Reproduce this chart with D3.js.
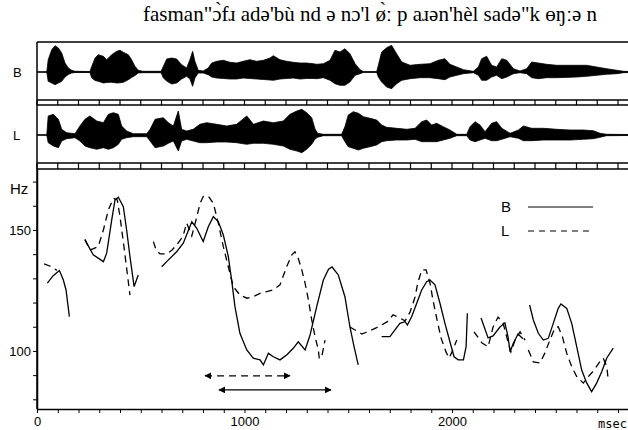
<!DOCTYPE html>
<html>
<head>
<meta charset="utf-8">
<script src="https://cdn.jsdelivr.net/npm/d3@7"></script>
<style>
  body { margin: 0; background: #fff; }
  svg { display: block; }
  text { font-family: "Liberation Sans", Arial, sans-serif; fill: #000; }
</style>
</head>
<body>
<div id="chart"></div>
<script>
// transcription shown above the waveforms
const title = 'fasman"ɔ̀fɹ adə\'bù nd ə nɔ\'l ø̀ː p aɹən\'hèl sadə"k ɵŋːə n';

// waveform envelopes: [msec, amplitude above, amplitude below]
const waveB = [
  [0,0,0],[47,0,0],[54,12.3,9.3],[71,22.3,11],[87,26.3,12.7],[103,24,11],[119,19,9.3],
  [135,9,5],[151,4,2.5],[167,1.7,1],[183,0.7,0.5],[255,0.5,0.5],[264,5.7,6],[280,14,8.5],
  [295,17.3,9.3],[320,15.7,11],[336,12.3,10.5],[360,17.3,10.3],[384,20.7,11],[400,21.7,10.8],
  [416,19.7,10.3],[440,17.3,7.7],[456,12.3,5.5],[472,5.7,3.5],[488,1.7,1],[511,0.7,0.7],
  [598,0.7,0.7],[609,5.7,6],[625,13,9],[649,14,12],[673,13,11],[697,7.3,7],[721,4,4.3],
  [737,12.3,7],[750,20.7,14.3],[761,10.7,6],[777,1.7,1],[801,1,1],[825,4,2.7],[842,9,5],
  [866,10.7,6],[898,11.7,6.5],[930,9.7,7],[962,9,7],[994,10.7,6],[1026,12.3,6.5],
  [1059,10.7,7],[1091,11.7,7.5],[1123,14,8],[1139,16.3,8.3],[1171,12.3,7],[1203,10.7,6.5],
  [1235,9.7,6],[1267,9,7],[1300,9,6.5],[1331,8.3,6.5],[1348,7.7,6.7],[1380,8.3,5.7],
  [1412,11.7,8.3],[1436,21.7,11.7],[1460,20,13.3],[1484,23.3,13.3],[1508,18.3,10],
  [1533,8.3,3.3],[1557,2.3,1.7],[1573,0.3,0.3],[1637,0.3,0.3],[1645,6.7,5],[1661,20,10],
  [1685,24.3,15],[1709,26.7,16.7],[1733,18.3,11.7],[1758,10,8.3],[1798,6.7,6.7],
  [1846,7.7,5.7],[1894,8.3,5.7],[1934,11.7,6.7],[1966,13.3,7.7],[1990,7.7,5],[2023,5,3.3],
  [2055,2.3,1.7],[2103,0.7,0.7],[2127,5,3.3],[2143,13.3,8.3],[2167,15.7,8.3],[2191,6.7,5],
  [2215,5,3.3],[2240,13.3,6.7],[2264,11.7,5],[2296,3.3,1.7],[2328,1,0.7],[2360,3.3,1.7],
  [2384,10,5.7],[2416,9,6.7],[2456,7.7,5.7],[2505,6.7,5.7],[2601,6.7,5],[2649,6.7,4.3],
  [2697,5,3.3],[2745,3.3,2.3],[2794,1.7,1.7],[2826,0.7,0.7],[2850,0.5,0.5]
];
const waveL = [
  [0,0,0],[47,0,0],[54,19,7.7],[79,20.7,11],[103,15.7,12.7],[119,5.7,6],[143,2.3,3.7],
  [183,1.3,2.7],[207,9,6],[231,15.7,11],[255,19,12.7],[288,14,14.3],[320,12.3,12.7],
  [344,20.7,14.3],[368,22.3,12.7],[392,20.7,9.3],[408,9,4.3],[432,4,2.7],[464,1.3,1.7],
  [529,1.3,1.7],[545,5.7,6],[569,15.7,12.7],[609,17.3,11],[633,12.3,8.3],[657,9,6],
  [681,24,16],[697,5.7,6],[721,4,4.3],[753,5.7,6],[785,10.7,7.7],[818,12.3,7.7],
  [866,10.7,7],[914,9,7],[962,10.7,7.7],[1011,19,9.3],[1043,10.7,8.3],[1091,14,8.3],
  [1139,12.3,9.3],[1187,14,11],[1219,20.7,14.3],[1252,24,16],[1276,25.7,17.7],
  [1300,22.3,14.3],[1324,17.3,9.3],[1340,6,4],[1352,1.7,2.3],[1380,0.7,0.7],[1468,0.7,0.7],
  [1484,8.3,6.7],[1500,20,11.7],[1524,23.3,13.3],[1549,21.7,15],[1573,18.3,13.3],
  [1605,16.7,11.7],[1637,15,10],[1661,10,6.7],[1685,7.7,5.7],[1733,6.7,5],[1782,5.7,5],
  [1822,6.7,4.3],[1854,13.3,6.7],[1878,15,6.7],[1902,10,6.7],[1926,11.7,6.7],[1958,8.3,5],
  [1990,5,3.3],[2023,0.7,0.7],[2071,0.7,0.7],[2087,8.3,5],[2111,13.3,6.7],[2135,10,5],
  [2159,3.3,3.3],[2191,11.7,5.7],[2215,13.3,5.7],[2240,6.7,4.3],[2280,1.7,1.7],[2320,5,3.3],
  [2344,9,5.7],[2384,6.7,5.7],[2440,6.7,5],[2505,5.7,5],[2569,5,5],[2633,5,4.3],
  [2681,4.3,3.7],[2713,1.7,2.3],[2745,0.7,0.7],[2850,0.5,0.5]
];

// F0 contours, speaker B (solid) and L (dashed): [msec, Hz]
const pitchB = [
  [[50,128.0],[77,131.0],[108,133.2],[127,129.3],[140,125.2],[156,114.2]],
  [[231,145.9],[271,139.7],[320,136.9],[336,140.5],[360,154.1],[376,162.4],[392,163.5],
   [416,159.6],[432,150.0],[448,139.0],[468,126.6],[488,131.4]],
  [[601,134.8],[625,136.9],[673,141.0],[705,144.5],[746,153.4],[770,150.7],[801,145.2],
   [826,151.4],[850,155.5],[874,153.4],[898,147.9],[922,139.0],[938,129.3],[954,118.3],
   [978,107.3],[1011,100.4],[1042,97.0],[1075,96.3],[1091,94.2],[1115,99.0],[1139,97.6],
   [1171,96.3],[1203,98.3],[1235,101.1],[1259,103.8],[1292,100.4],[1316,106.6],[1348,118.3],
   [1380,129.3],[1405,133.8],[1422,134.7],[1452,131.4],[1484,122.4],[1508,110.0],
   [1528,101.8],[1548,94.2]],
  [[1661,105.9],[1701,105.9],[1725,108.7],[1749,111.4],[1774,112.1],[1785,110.7],
   [1806,114.2],[1830,119.7],[1854,125.2],[1878,128.6],[1894,129.3],[1918,127.3],
   [1942,119.7],[1966,111.4],[1990,103.8],[2010,97.6],[2030,96.3],[2055,96.3],[2068,101.8],
   [2074,115.6]],
  [[2140,113.6],[2174,105.4],[2198,106.2],[2231,109.9],[2255,111.6],[2270,105.8],
   [2280,99.6],[2294,102.9],[2318,107.0],[2342,105.0]],
  [[2374,119.0],[2392,112.8],[2416,107.3],[2440,104.5],[2464,105.2],[2488,111.4],
   [2512,117.6],[2525,119.4],[2553,117.6],[2577,111.4],[2601,101.8],[2625,92.1],
   [2649,86.8],[2673,83.2],[2697,86.7],[2721,91.3],[2746,97.1],[2777,101.2]]
];
const pitchL = [
  [[34,136.0],[64,135.0],[96,133.3]],
  [[231,146.2],[255,141.7],[295,143.1],[320,150.0],[344,158.3],[368,163.1],[387,162.4],
   [400,155.5],[419,143.1],[435,132.1],[448,123.1]],
  [[561,145.2],[574,141.7],[593,140.1],[625,140.1],[651,141.7],[680,144.6],[704,147.5],
   [721,152.9],[746,147.5],[766,154.1],[786,161.0],[801,163.8],[826,164.0],[850,161.0],
   [874,152.7],[898,143.1],[922,134.8],[946,126.6],[978,123.1],[1011,121.8],[1042,122.4],
   [1075,123.8],[1107,124.5],[1139,125.2],[1171,127.3],[1203,134.8],[1228,139.7],
   [1243,141.0],[1259,138.3],[1276,133.5],[1292,128.0],[1308,121.1],[1324,112.8],
   [1340,105.9],[1356,100.4],[1361,96.3]],
  [[1374,98.3],[1388,104.5]],
  [[1508,109.9],[1566,107.0],[1634,109.5],[1687,112.0],[1716,114.9],[1749,113.6],
   [1774,112.4],[1798,116.1],[1822,122.3],[1836,128.5],[1855,133.5],[1875,133.5],
   [1894,128.1],[1908,121.1],[1928,112.8],[1947,105.4],[1971,99.6],[1986,97.1],
   [2000,99.6],[2023,104.5]],
  [[2106,107.9],[2145,103.3],[2174,101.7],[2198,109.9],[2222,114.0],[2246,111.6],
   [2270,103.7],[2284,99.6],[2304,104.5],[2328,107.9],[2352,104.5]],
  [[2368,100.4],[2392,95.5],[2424,95.0],[2448,99.2],[2472,104.5],[2496,109.5],
   [2512,110.0],[2532,105.9],[2553,99.0],[2577,93.5],[2601,89.4],[2633,86.7],
   [2657,89.4],[2681,91.7],[2713,95.6],[2729,97.0],[2746,93.5],[2753,88.0]]
];

// duration arrows: [start msec, end msec, Hz level]
const arrowL = [810, 1219, 89.7];
const arrowB = [877, 1417, 83.9];

const xTicks = d3.range(0, 2900, 100);
const xLabels = [0, 1000, 2000];
const yTicks = d3.range(80, 180, 10);
const yLabels = [100, 150];

const width = 628, height = 430;
const left = 37, right = 628;
const frameTop = 42;
const bPanel = [42, 100], lPanel = [105, 163], fPanel = [169, 409];

const svg = d3.select('#chart').append('svg')
  .attr('width', width)
  .attr('height', height);

const defs = svg.append('defs');
defs.append('marker')
  .attr('id', 'head')
  .attr('viewBox', '0 0 10 10')
  .attr('refX', 9).attr('refY', 5)
  .attr('markerWidth', 7).attr('markerHeight', 7)
  .attr('markerUnits', 'userSpaceOnUse')
  .attr('orient', 'auto-start-reverse')
  .append('path')
  .attr('d', 'M0,0L10,5L0,10Z')
  .attr('fill', '#000');

const x = d3.scaleLinear().domain([0, 2850]).range([left, left + 0.2075 * 2850]);
const y = d3.scaleLinear().domain([76, 175.2]).range([fPanel[1], fPanel[0]]);

// title
svg.append('text')
  .attr('x', 143).attr('y', 21)
  .style('font-family', '"Liberation Serif", "DejaVu Serif", serif')
  .style('font-size', '21px')
  .text(title);

// frame
svg.append('line').attr('x1', left).attr('x2', right).attr('y1', frameTop).attr('y2', frameTop)
  .attr('stroke', '#000').attr('stroke-width', 1.5);

// waveform panels
function wavePanel(data, band, label) {
  const amp = d3.scaleLinear().domain([-28, 30]).range([band[1], band[0]]);
  const g = svg.append('g');
  g.append('line')
    .attr('x1', left).attr('x2', right)
    .attr('y1', amp(0)).attr('y2', amp(0))
    .attr('stroke', '#000').attr('stroke-width', 1);
  g.append('path')
    .datum(data)
    .attr('d', d3.area()
      .x(d => x(d[0]))
      .y0(d => amp(-d[2]))
      .y1(d => amp(d[1])))
    .attr('fill', '#000')
    .attr('stroke', '#000')
    .attr('stroke-width', 0.8);
  g.append('text')
    .attr('x', 13).attr('y', amp(0))
    .attr('dy', '0.35em')
    .style('font-size', '13px')
    .text(label);
}
wavePanel(waveB, bPanel, 'B');
wavePanel(waveL, lPanel, 'L');

// time rulers under each waveform
function ruler(y0, y1) {
  const g = svg.append('g').attr('stroke', '#000');
  g.append('line').attr('x1', left).attr('x2', right).attr('y1', y0).attr('y2', y0).attr('stroke-width', 1.3);
  g.append('line').attr('x1', left).attr('x2', right).attr('y1', y1).attr('y2', y1).attr('stroke-width', 1.6);
  g.selectAll('.t').data(xTicks).join('line')
    .attr('x1', d => x(d)).attr('x2', d => x(d))
    .attr('y1', y0).attr('y2', y1)
    .attr('stroke-width', 1.2);
}
ruler(100, 105);
ruler(163, 169);

// left frame line
svg.append('line').attr('x1', left).attr('x2', left).attr('y1', frameTop).attr('y2', fPanel[1])
  .attr('stroke', '#000').attr('stroke-width', 1.5);

// axes of the F0 panel
const xAxis = d3.axisBottom(x)
  .tickValues(xTicks)
  .tickSize(4)
  .tickSizeOuter(0)
  .tickFormat(d => xLabels.includes(d) ? d : '');
const gx = svg.append('g')
  .attr('transform', `translate(0,${fPanel[1]})`)
  .call(xAxis);
gx.select('.domain').attr('stroke-width', 1.5);
gx.selectAll('text').style('font-size', '13px').attr('y', 8);

const yAxis = d3.axisLeft(y)
  .tickValues(yTicks)
  .tickSize(4)
  .tickSizeOuter(0)
  .tickFormat(d => yLabels.includes(d) ? d : '');
const gy = svg.append('g')
  .attr('transform', `translate(${left},0)`)
  .call(yAxis);
gy.select('.domain').attr('stroke-width', 1.5);
gy.selectAll('text').style('font-size', '13px').attr('x', -6);

svg.append('text')
  .attr('x', 10).attr('y', 194)
  .style('font-size', '15px')
  .text('Hz');

svg.append('text')
  .attr('x', 598).attr('y', 428)
  .style('font-family', '"DejaVu Sans Mono", monospace')
  .style('font-size', '12px')
  .text('msec');

// F0 contours
const line = d3.line().x(d => x(d[0])).y(d => y(d[1]));
svg.append('g').selectAll('path').data(pitchB).join('path')
  .attr('d', line)
  .attr('fill', 'none')
  .attr('stroke', '#000')
  .attr('stroke-width', 1.3);
svg.append('g').selectAll('path').data(pitchL).join('path')
  .attr('d', line)
  .attr('fill', 'none')
  .attr('stroke', '#000')
  .attr('stroke-width', 1.3)
  .attr('stroke-dasharray', '7,5');

// duration arrows
[[arrowL, '7,5'], [arrowB, null]].forEach(([a, dash]) => {
  svg.append('line')
    .attr('x1', x(a[0])).attr('x2', x(a[1]))
    .attr('y1', y(a[2])).attr('y2', y(a[2]))
    .attr('stroke', '#000')
    .attr('stroke-width', 1.2)
    .attr('stroke-dasharray', dash)
    .attr('marker-start', 'url(#head)')
    .attr('marker-end', 'url(#head)');
});

// legend
const legend = svg.append('g');
[['B', null, 207], ['L', '6,5', 231]].forEach(([name, dash, ly]) => {
  legend.append('text')
    .attr('x', 501).attr('y', ly)
    .attr('dy', '0.35em')
    .style('font-size', '15px')
    .text(name);
  legend.append('line')
    .attr('x1', 528).attr('x2', 593)
    .attr('y1', ly).attr('y2', ly)
    .attr('stroke', '#000')
    .attr('stroke-width', 1.2)
    .attr('stroke-dasharray', dash);
});
</script>
</body>
</html>
